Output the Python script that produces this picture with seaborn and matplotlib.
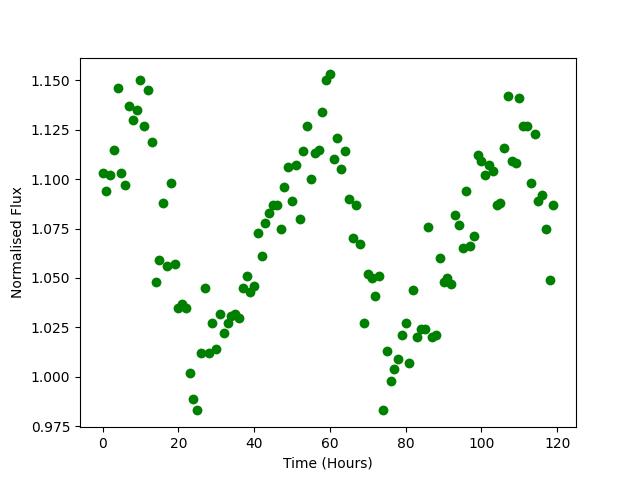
import matplotlib
matplotlib.use("Agg")
import matplotlib.pyplot as plt
import seaborn as sns
import numpy as np
import pandas as pd

hours = list(range(120))
flux = [
    1.103, 1.094, 1.102, 1.115, 1.146, 1.103, 1.097, 1.137, 1.130, 1.135,
    1.150, 1.127, 1.145, 1.119, 1.048, 1.059, 1.088, 1.056, 1.098, 1.057,
    1.035, 1.037, 1.035, 1.002, 0.989, 0.983, 1.012, 1.045, 1.012, 1.027,
    1.014, 1.032, 1.022, 1.027, 1.031, 1.032, 1.030, 1.045, 1.051, 1.043,
    1.046, 1.073, 1.061, 1.078, 1.083, 1.087, 1.087, 1.075, 1.096, 1.106,
    1.089, 1.107, 1.080, 1.114, 1.127, 1.100, 1.113, 1.115, 1.134, 1.150,
    1.153, 1.110, 1.121, 1.105, 1.114, 1.090, 1.070, 1.087, 1.067, 1.027,
    1.052, 1.050, 1.041, 1.051, 0.983, 1.013, 0.998, 1.004, 1.009, 1.021,
    1.027, 1.007, 1.044, 1.020, 1.024, 1.024, 1.076, 1.020, 1.021, 1.060,
    1.048, 1.050, 1.047, 1.082, 1.077, 1.065, 1.094, 1.066, 1.071, 1.112,
    1.109, 1.102, 1.107, 1.104, 1.087, 1.088, 1.116, 1.142, 1.109, 1.108,
    1.141, 1.127, 1.127, 1.098, 1.123, 1.089, 1.092, 1.075, 1.049, 1.087,
]

df = pd.DataFrame({"Time (Hours)": hours, "Normalised Flux": flux})

fig, ax = plt.subplots(figsize=(6.4, 4.8), dpi=100)
sns.scatterplot(data=df, x="Time (Hours)", y="Normalised Flux", color="green",
                s=50, linewidth=0, ax=ax)
ax.set_xlabel("Time (Hours)")
ax.set_ylabel("Normalised Flux")
ax.set_xticks([0, 20, 40, 60, 80, 100, 120])
ax.set_yticks([0.975, 1.000, 1.025, 1.050, 1.075, 1.100, 1.125, 1.150])
ax.set_yticklabels([f"{v:.3f}" for v in [0.975, 1.000, 1.025, 1.050, 1.075, 1.100, 1.125, 1.150]])
fig.savefig("out.png", dpi=100)
